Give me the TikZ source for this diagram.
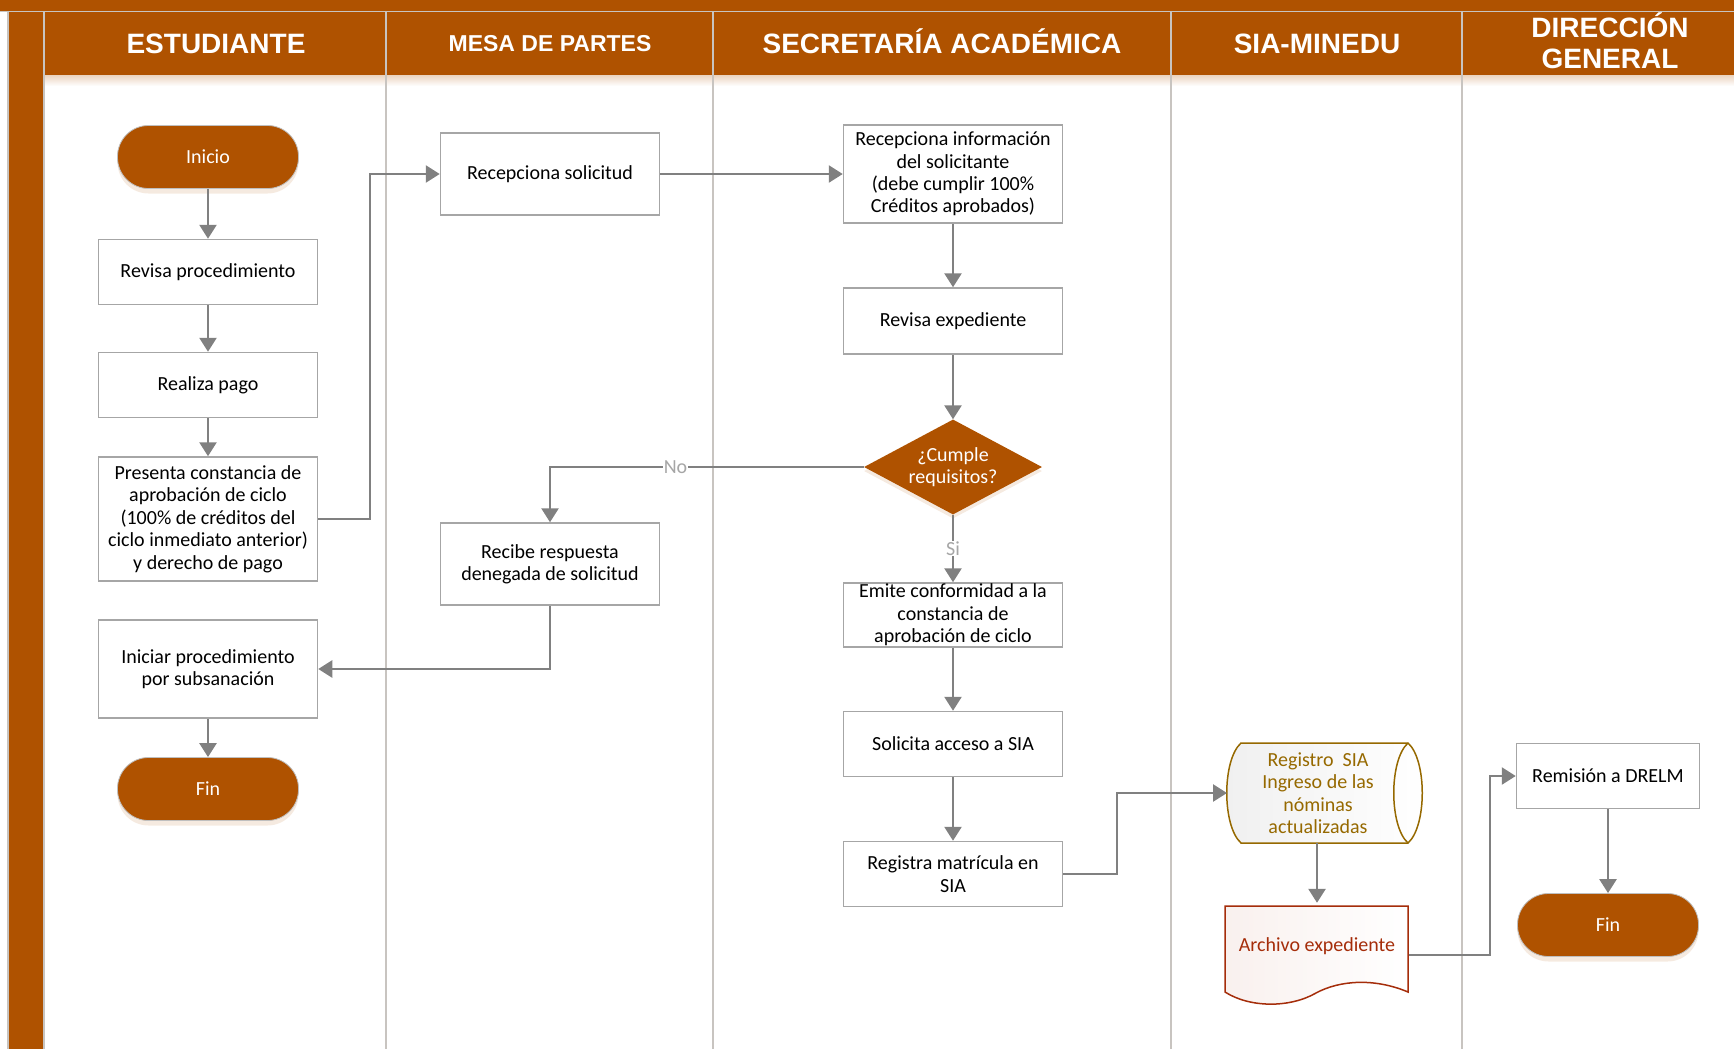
\documentclass[tikz,border=0pt]{standalone}
\usepackage{fontspec}
\setmainfont{Carlito}
\newfontfamily\lanefont{Liberation Sans}
\usetikzlibrary{arrows.meta, shapes.geometric, shadows, calc}

\definecolor{laneorange}{RGB}{175,82,0}
\definecolor{boxgrey}{RGB}{166,166,166}
\definecolor{arrowgrey}{RGB}{128,128,128}
\definecolor{laneline}{RGB}{200,196,192}
\definecolor{siagold}{RGB}{150,105,0}
\definecolor{archred}{RGB}{165,45,10}

\newcommand{\flowfont}{\fontsize{20}{22.4}\selectfont}

\tikzset{
    my-process/.style={
        draw=boxgrey, line width=1.5pt, fill=white, align=center,
        minimum width=219pt, minimum height=65pt, inner sep=1pt, font=\flowfont
    },
    my-terminal/.style={
        draw=black!25, line width=0.8pt, fill=laneorange, text=white,
        rounded corners=31pt, minimum width=181pt, minimum height=63pt, font=\flowfont,
        drop shadow={shadow xshift=0pt, shadow yshift=-5pt, fill=laneorange!30, opacity=0.4}
    },
    my-decision/.style={
        diamond, fill=laneorange, text=white, aspect=1.87, align=center,
        minimum width=178pt, minimum height=95pt, inner sep=0pt, font=\flowfont,
        drop shadow={shadow xshift=0pt, shadow yshift=-4pt, fill=laneorange!30, opacity=0.4}
    },
    my-arrow/.style={
        draw=arrowgrey, line width=2.6pt, -{Triangle[length=14pt, width=17pt]}
    },
    my-lane-title/.style={
        text=white, align=center, font=\lanefont\bfseries\fontsize{28}{31}\selectfont
    },
    my-branch-label/.style={
        fill=white, text=black!35, inner sep=1pt, font=\flowfont
    },
    my-lane-line/.style={
        draw=laneline, line width=1.6pt
    },
}

\begin{document}
\begin{tikzpicture}[x=1pt, y=-1pt]

        \useasboundingbox (0, 0) rectangle (1734, 1049);

        % LANES AND HEADER
        \fill[laneorange] (0, 0) rectangle (1734, 11);
        \fill[laneorange] (44, 12) rectangle (1734, 75);
        \fill[laneorange] (9, 11) rectangle (43, 1049);
        \shade[top color=laneorange!25, bottom color=white] (45, 75) rectangle (1734, 86);
        \draw[my-lane-line] (0, 11.5) -- (1734, 11.5);
        \draw[my-lane-line] (8, 11.5) -- (8, 1049);
        \draw[my-lane-line] (44, 11.5) -- (44, 1049);
        \foreach \x in {386, 713, 1171, 1462}
            \draw[my-lane-line] (\x, 11.5) -- (\x, 1049);

        \node[my-lane-title, anchor=base] (ESTUD) at (216, 53)  {ESTUDIANTE};
        \node[my-lane-title, anchor=base, font=\lanefont\bfseries\fontsize{23}{26}\selectfont]
                                          (MESA)  at (550, 52)  {MESA DE PARTES};
        \node[my-lane-title, anchor=base] (SECRE) at (942, 53)  {SECRETARÍA ACADÉMICA};
        \node[my-lane-title, anchor=base] (SIAMI) at (1317, 53) {SIA-MINEDU};
        \node[my-lane-title] (DIREC) at (1610, 41) {DIRECCIÓN\\GENERAL};

        % ESTUDIANTE
        \node[my-terminal] (INICIO)   at (208, 157)                 {Inicio};
        \node[my-process]  (REVPROC)  at ($(INICIO) + (0, 115)$)    {Revisa procedimiento};
        \node[my-process]  (PAGO)     at ($(REVPROC) + (0, 113)$)   {Realiza pago};
        \node[my-process, minimum height=124pt]
                           (PRESENTA) at ($(PAGO) + (0, 134)$)      {Presenta constancia de\\aprobación de ciclo\\(100\% de créditos del\\ciclo inmediato anterior)\\y derecho de pago};
        \node[my-process, minimum height=98pt]
                           (INICIAR)  at ($(PRESENTA) + (0, 150)$)  {Iniciar procedimiento\\por subsanación};
        \node[my-terminal] (FINA)     at ($(INICIAR) + (0, 120)$)   {Fin};

        % MESA DE PARTES
        \node[my-process, minimum height=82pt] (RECSOL) at (550, 174) {Recepciona solicitud};
        \node[my-process, minimum height=82pt] (RECIBE) at (550, 564) {Recibe respuesta\\denegada de solicitud};

        % SECRETARIA ACADEMICA
        \node[my-process, minimum height=98pt]
                           (RECINFO)  at (953, 174)                 {Recepciona información\\del solicitante\\(debe cumplir 100\%\\Créditos aprobados)};
        \node[my-process, minimum height=66pt]
                           (REVEXP)   at ($(RECINFO) + (0, 147)$)   {Revisa expediente};
        \node[my-decision] (CUMPLE)   at ($(REVEXP) + (0, 146)$)    {¿Cumple\\requisitos?};
        \node[my-process, minimum height=64pt, inner sep=0pt]
                           (EMITE)    at ($(CUMPLE) + (0, 148)$)    {Emite conformidad a la\\constancia de\\aprobación de ciclo};
        \node[my-process]  (SOLICITA) at ($(EMITE) + (0, 129)$)     {Solicita acceso a SIA};
        \node[my-process]  (REGISTRA) at ($(SOLICITA) + (0, 130)$)  {Registra matrícula en\\SIA};

        % SIA-MINEDU
        \draw[siagold, line width=1.5pt, left color=black!6, right color=white]
            (1241, 743) -- (1408, 743)
            .. controls (1427, 760) and (1427, 826) .. (1408, 843)
            -- (1241, 843)
            .. controls (1222, 826) and (1222, 760) .. cycle;
        \draw[siagold, line width=1.5pt]
            (1408, 743) .. controls (1389, 760) and (1389, 826) .. (1408, 843);
        \node[align=center, text=siagold, font=\flowfont, inner sep=0pt,
              minimum width=182pt, minimum height=100pt]
                           (REGSIA)   at (1318, 793)                {Registro\ \ SIA\\Ingreso de las\\nóminas\\actualizadas};

        \draw[archred, line width=1.5pt, left color=archred!7, right color=white]
            (1225, 906) -- (1408, 906) -- (1408, 992)
            .. controls (1375, 978) and (1340, 980) .. (1316, 993)
            .. controls (1290, 1008) and (1250, 1008) .. (1225, 992) -- cycle;
        \node[align=center, text=archred, font=\flowfont, inner sep=0pt,
              minimum width=183pt, minimum height=86pt]
                           (ARCHIVO)  at (1317, 946)                {Archivo expediente};

        % DIRECCION GENERAL
        \node[my-process, minimum width=183pt] (REMISION) at (1608, 776) {Remisión a DRELM};
        \node[my-terminal] (FINB)     at ($(REMISION) + (0, 149)$)  {Fin};

        % BEND POINTS
        \coordinate (PRESBEND) at (370, 0);
        \coordinate (REGBEND)  at (1117, 0);
        \coordinate (ARCHBEND) at (1490, 0);
        \coordinate (SIAIN)    at (1227, 793);

        % CONNECTIONS - ESTUDIANTE
        \draw[my-arrow] (INICIO) -- (REVPROC);
        \draw[my-arrow] (REVPROC) -- (PAGO);
        \draw[my-arrow] (PAGO) -- (PRESENTA);
        \draw[my-arrow] (PRESENTA.east) -- (PRESENTA.east -| PRESBEND) |- (RECSOL.west);
        \draw[my-arrow] (INICIAR) -- (FINA);

        % CONNECTIONS - MESA DE PARTES
        \draw[my-arrow] (RECSOL.east) -- (RECINFO.west);
        \draw[my-arrow] (RECIBE.south) |- (INICIAR.east);

        % CONNECTIONS - SECRETARIA ACADEMICA
        \draw[my-arrow] (RECINFO) -- (REVEXP);
        \draw[my-arrow] (REVEXP) -- (CUMPLE);
        \draw[my-arrow] (CUMPLE.west) -| (RECIBE.north) node[my-branch-label, pos=0.3] (NO) {No};
        \draw[my-arrow] (CUMPLE.south) -- (EMITE.north) node[my-branch-label, pos=0.5] (SI) {Si};
        \draw[my-arrow] (EMITE) -- (SOLICITA);
        \draw[my-arrow] (SOLICITA) -- (REGISTRA);
        \draw[my-arrow] (REGISTRA.east) -- (REGISTRA.east -| REGBEND) |- (SIAIN);

        % CONNECTIONS - SIA-MINEDU AND DIRECCION
        \draw[my-arrow] (REGSIA.south -| ARCHIVO.north) -- (ARCHIVO.north);
        \draw[my-arrow] ($(ARCHIVO.east) + (0, 9)$) -- ($(ARCHIVO.east -| ARCHBEND) + (0, 9)$) |- (REMISION.west);
        \draw[my-arrow] (REMISION) -- (FINB);

    \end{tikzpicture}
\end{document}
